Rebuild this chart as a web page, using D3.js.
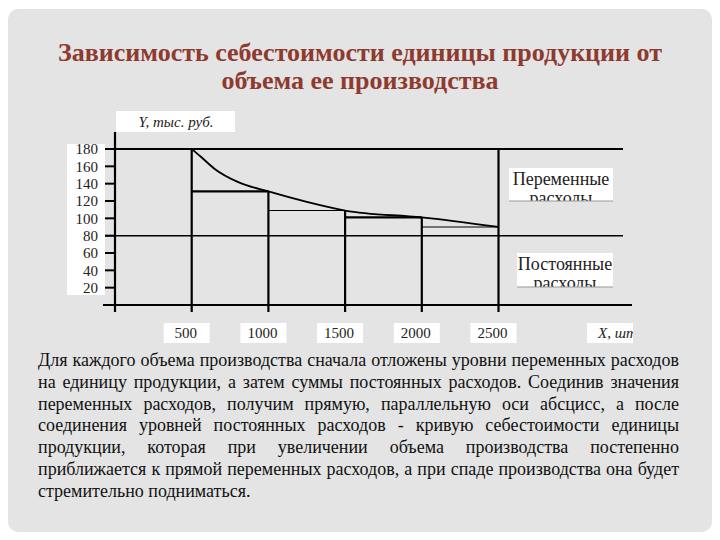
<!DOCTYPE html>
<html><head><meta charset="utf-8">
<script src="https://cdn.jsdelivr.net/npm/d3@7"></script>
<style>body{margin:0;background:#fff;} svg{display:block;} text{font-family:"Liberation Serif","DejaVu Serif","Noto Serif",Tinos,serif;}</style>
</head><body>
<svg id="chart" width="720" height="540"></svg>
<script>
// ---- data ----
const titleLines = ["Зависимость себестоимости единицы продукции от", "объема ее производства"];
const volumes = [500, 1000, 1500, 2000, 2500];
const xTickLabels = ["500", "1000", "1500", "2000", "2500"];
const yTicks = [20, 40, 60, 80, 100, 120, 140, 160, 180];
const curveX = [500, 560, 650, 800, 1000, 1250, 1500, 2000, 2500];
const curveY = [180, 171, 157, 142, 131, 119, 109, 101, 90];
const stepLevels = [131, 109, 101, 90];
const verticalTops = [180, 131, 109, 101, 180];
const variableLevel = 80;
const maxLevel = 180;
const yAxisLabel = "Y, тыс. руб.";
const xAxisLabel = "X, шт";
const variableLabel = ["Переменные", "расходы"];
const fixedLabel = ["Постоянные", "расходы"];
const paragraphLines = [
  "Для каждого объема производства сначала отложены уровни переменных расходов",
  "на единицу продукции, а затем суммы постоянных расходов. Соединив значения",
  "переменных расходов, получим прямую, параллельную оси абсцисс, а после",
  "соединения уровней постоянных расходов - кривую себестоимости единицы",
  "продукции, которая при увеличении объема производства постепенно",
  "приближается к прямой переменных расходов, а при спаде производства она будет",
  "стремительно подниматься."
];

// ---- drawing ----
const svg = d3.select("#chart");

svg.append("rect").attr("x", 8).attr("y", 9).attr("width", 704).attr("height", 523)
  .attr("rx", 10).attr("fill", "#e4e4e4");

// title
svg.append("g").selectAll("text").data(titleLines).join("text")
  .attr("x", 360).attr("y", (d, i) => 52 + i * 28).attr("dy", "0.35em")
  .attr("text-anchor", "middle")
  .attr("font-weight", "bold").attr("font-size", 26)
  .attr("fill", "#8e3a2f").text(d => d);

const x = d3.scaleLinear().domain([0, 2500]).range([115, 498.5]);
const y = d3.scaleLinear().domain([0, 180]).range([305, 149]);

const g = svg.append("g");

// y label box
g.append("rect").attr("x", 116).attr("y", 111).attr("width", 119).attr("height", 21).attr("fill", "#fff");
g.append("text").attr("x", 176).attr("y", 122).attr("dy", "0.35em").attr("text-anchor", "middle")
  .attr("font-style", "italic").attr("font-size", 15).attr("fill", "#222")
  .text(yAxisLabel);

// y tick label box
g.append("rect").attr("x", 67).attr("y", 144).attr("width", 38).attr("height", 151).attr("fill", "#fff");
g.selectAll(".ylab").data(yTicks).join("text").attr("class", "ylab")
  .attr("x", 98).attr("y", d => y(d)).attr("dy", "0.35em").attr("text-anchor", "end")
  .attr("font-size", 15).attr("fill", "#222").text(d => d);

// y ticks
g.selectAll(".ytick").data(yTicks).join("line").attr("class", "ytick")
  .attr("x1", 105).attr("x2", 115).attr("y1", d => y(d)).attr("y2", d => y(d))
  .attr("stroke", "#000").attr("stroke-width", 2);

// y axis
g.append("line").attr("x1", x(0)).attr("x2", x(0)).attr("y1", 132).attr("y2", 312)
  .attr("stroke", "#000").attr("stroke-width", 2.2);

// horizontal reference lines
g.append("line").attr("x1", 105).attr("x2", 623).attr("y1", y(maxLevel)).attr("y2", y(maxLevel))
  .attr("stroke", "#000").attr("stroke-width", 2.2);
g.append("line").attr("x1", 105).attr("x2", 623).attr("y1", y(variableLevel)).attr("y2", y(variableLevel))
  .attr("stroke", "#000").attr("stroke-width", 1.5);
// x axis
g.append("line").attr("x1", 103).attr("x2", 632).attr("y1", y(0)).attr("y2", y(0))
  .attr("stroke", "#000").attr("stroke-width", 2);

// verticals
g.selectAll(".vert").data(volumes).join("line").attr("class", "vert")
  .attr("x1", d => x(d)).attr("x2", d => x(d))
  .attr("y1", (d, i) => y(verticalTops[i])).attr("y2", 312)
  .attr("stroke", "#000").attr("stroke-width", 2.2);

// steps
g.selectAll(".step").data(stepLevels).join("line").attr("class", "step")
  .attr("x1", (d, i) => x(volumes[i])).attr("x2", (d, i) => x(volumes[i + 1]))
  .attr("y1", d => y(d)).attr("y2", d => y(d))
  .attr("stroke", "#000").attr("stroke-width", (d, i) => i % 2 === 0 ? 2.2 : 1.1);

// curve
const pts = curveX.map((v, i) => [v, curveY[i]]);
g.append("path").datum(pts)
  .attr("d", d3.line().x(d => x(d[0])).y(d => y(d[1])).curve(d3.curveMonotoneX))
  .attr("fill", "none").attr("stroke", "#000").attr("stroke-width", 1.8);

// x labels
const xl = g.selectAll(".xl").data(volumes).join("g").attr("class", "xl");
xl.append("rect").attr("x", d => x(d) - 28).attr("y", 323).attr("width", 46).attr("height", 20).attr("fill", "#fff");
xl.append("text").attr("x", d => x(d) - 6).attr("y", 333).attr("dy", "0.35em").attr("text-anchor", "middle")
  .attr("font-size", 15).attr("fill", "#222").text((d, i) => xTickLabels[i]);

// X label, clipped
const defs = svg.append("defs");
defs.append("clipPath").attr("id", "cx").append("rect").attr("x", 587).attr("y", 323).attr("width", 46).attr("height", 20);
g.append("rect").attr("x", 587).attr("y", 323).attr("width", 46).attr("height", 20).attr("fill", "#fff");
g.append("text").attr("clip-path", "url(#cx)").attr("x", 598).attr("y", 333).attr("dy", "0.35em")
  .attr("font-style", "italic").attr("font-size", 15).attr("fill", "#222").text(xAxisLabel);

// label boxes
function labelBox(id, bx, by, bw, bh, lines, cy) {
  defs.append("clipPath").attr("id", id).append("rect").attr("x", bx).attr("y", by).attr("width", bw).attr("height", bh);
  g.append("rect").attr("x", bx).attr("y", by).attr("width", bw).attr("height", bh).attr("fill", "#fff");
  g.append("g").attr("clip-path", `url(#${id})`).selectAll("text").data(lines).join("text")
    .attr("x", bx + bw / 2).attr("y", (d, i) => cy + i * 19).attr("dy", "0.35em").attr("text-anchor", "middle")
    .attr("font-size", 18).attr("fill", "#222").text(d => d);
  g.append("line").attr("x1", bx).attr("x2", bx + bw).attr("y1", by + bh).attr("y2", by + bh)
    .attr("stroke", "#999").attr("stroke-width", 1);
}
labelBox("cv", 509, 168, 104, 33, variableLabel, 179);
labelBox("cf", 517, 253, 96, 34, fixedLabel, 264);

// paragraph (justified)
const pLeft = 38, pRight = 679, pLineH = 21.7, pTop = 360, minGap = 3.5;
paragraphLines.forEach((line, li) => {
  const words = line.split(" ");
  const yy = pTop + li * pLineH;
  const grp = svg.append("g");
  const inner = grp.append("g");
  const ts = words.map(w => inner.append("text").attr("y", yy).attr("dy", "0.35em")
    .attr("font-size", 18).attr("fill", "#111").text(w));
  const widths = ts.map(t => t.node().getComputedTextLength());
  const total = d3.sum(widths);
  const last = li === paragraphLines.length - 1;
  let gap = last ? 4.5 : (pRight - pLeft - total) / (words.length - 1);
  let sx = 1;
  if (gap < minGap) {
    gap = minGap;
    sx = (pRight - pLeft) / (total + gap * (words.length - 1));
  }
  let cx = 0;
  ts.forEach((t, i) => { t.attr("x", cx); cx += widths[i] + gap; });
  inner.attr("transform", `translate(${pLeft},0) scale(${sx},1)`);
});
</script>
</body></html>
